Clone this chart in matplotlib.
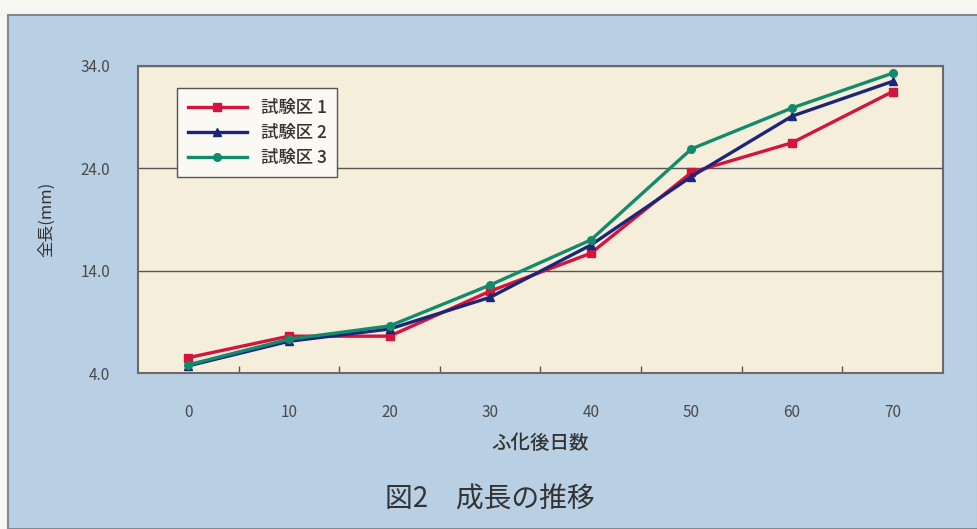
import matplotlib.pyplot as plt
from matplotlib.patches import Rectangle

plt.rcParams['font.family'] = ['Noto Sans CJK JP', 'DejaVu Sans']

days = [0, 10, 20, 30, 40, 50, 60, 70]
plot1 = [5.5, 7.6, 7.6, 12.0, 15.7, 23.6, 26.5, 31.5]
plot2 = [4.7, 7.1, 8.3, 11.4, 16.5, 23.2, 29.1, 32.5]
plot3 = [4.8, 7.3, 8.6, 12.6, 17.0, 25.9, 29.9, 33.3]
series_names = ['試験区 1', '試験区 2', '試験区 3']
y_ticks = [4.0, 14.0, 24.0, 34.0]

W, H = 978, 529
fig = plt.figure(figsize=(W / 100, H / 100), dpi=100)
fig.patch.set_facecolor('#f7f6f2')

# blue textured card behind the chart
card = Rectangle((8 / W, 0), 1 - 8 / W, 1 - 15 / H, transform=fig.transFigure,
                 facecolor='#b9cfe3', edgecolor='#7f8a94', linewidth=1.5, zorder=-10)
fig.patches.append(card)

ax = fig.add_axes([138 / W, 1 - 373 / H, (943 - 138) / W, (373 - 66) / H])
ax.set_zorder(1)
ax.set_facecolor('#f4eedb')

styles = [
    ('#d3143c', 's'),
    ('#1c2679', '^'),
    ('#138a6a', 'o'),
]
for vals, name, (col, mk) in zip([plot1, plot2, plot3], series_names, styles):
    ax.plot(days, vals, color=col, lw=2.4, marker=mk, ms=5.5, label=name,
            solid_joinstyle='miter')

ax.set_xlim(-5, 75)
ax.set_ylim(4, 34)
ax.set_xticks(days)
ax.set_xticks([d + 5 for d in days[:-1]], minor=True)
ax.set_yticks(y_ticks)
ax.set_yticklabels([f'{v:.1f}' for v in y_ticks])
ax.tick_params(axis='x', which='major', length=0, pad=22, labelsize=11, labelcolor='#4a4a4a')
ax.tick_params(axis='x', which='minor', direction='in', length=5, width=1, color='#555555')
ax.tick_params(axis='y', length=0, pad=20, labelsize=11, labelcolor='#4a4a4a')
ax.grid(axis='y', color='#555555', lw=1)
ax.set_axisbelow(True)
for s in ax.spines.values():
    s.set_color('#6a6a6a')
    s.set_linewidth(1.5)

ax.set_xlabel('ふ化後日数', fontsize=14, fontweight='medium', color='#333333', labelpad=10)
ax.set_ylabel('全長(mm)', fontsize=12, color='#333333', labelpad=18)

leg = ax.legend(loc='upper left', bbox_to_anchor=(0.038, 0.955), fontsize=12.5,
                frameon=True, fancybox=False, edgecolor='#555555', framealpha=1,
                facecolor='#fbf9f3', handlelength=3.4, labelspacing=0.4,
                borderpad=0.6, prop={'size': 12.5, 'weight': 'medium'})
for t in leg.get_texts():
    t.set_color('#333333')

fig.text(490 / W, 1 - 500 / H, '図2　成長の推移', fontsize=20, color='#333333',
         ha='center', va='center')

fig.savefig('out.png', dpi=100, facecolor=fig.get_facecolor())
